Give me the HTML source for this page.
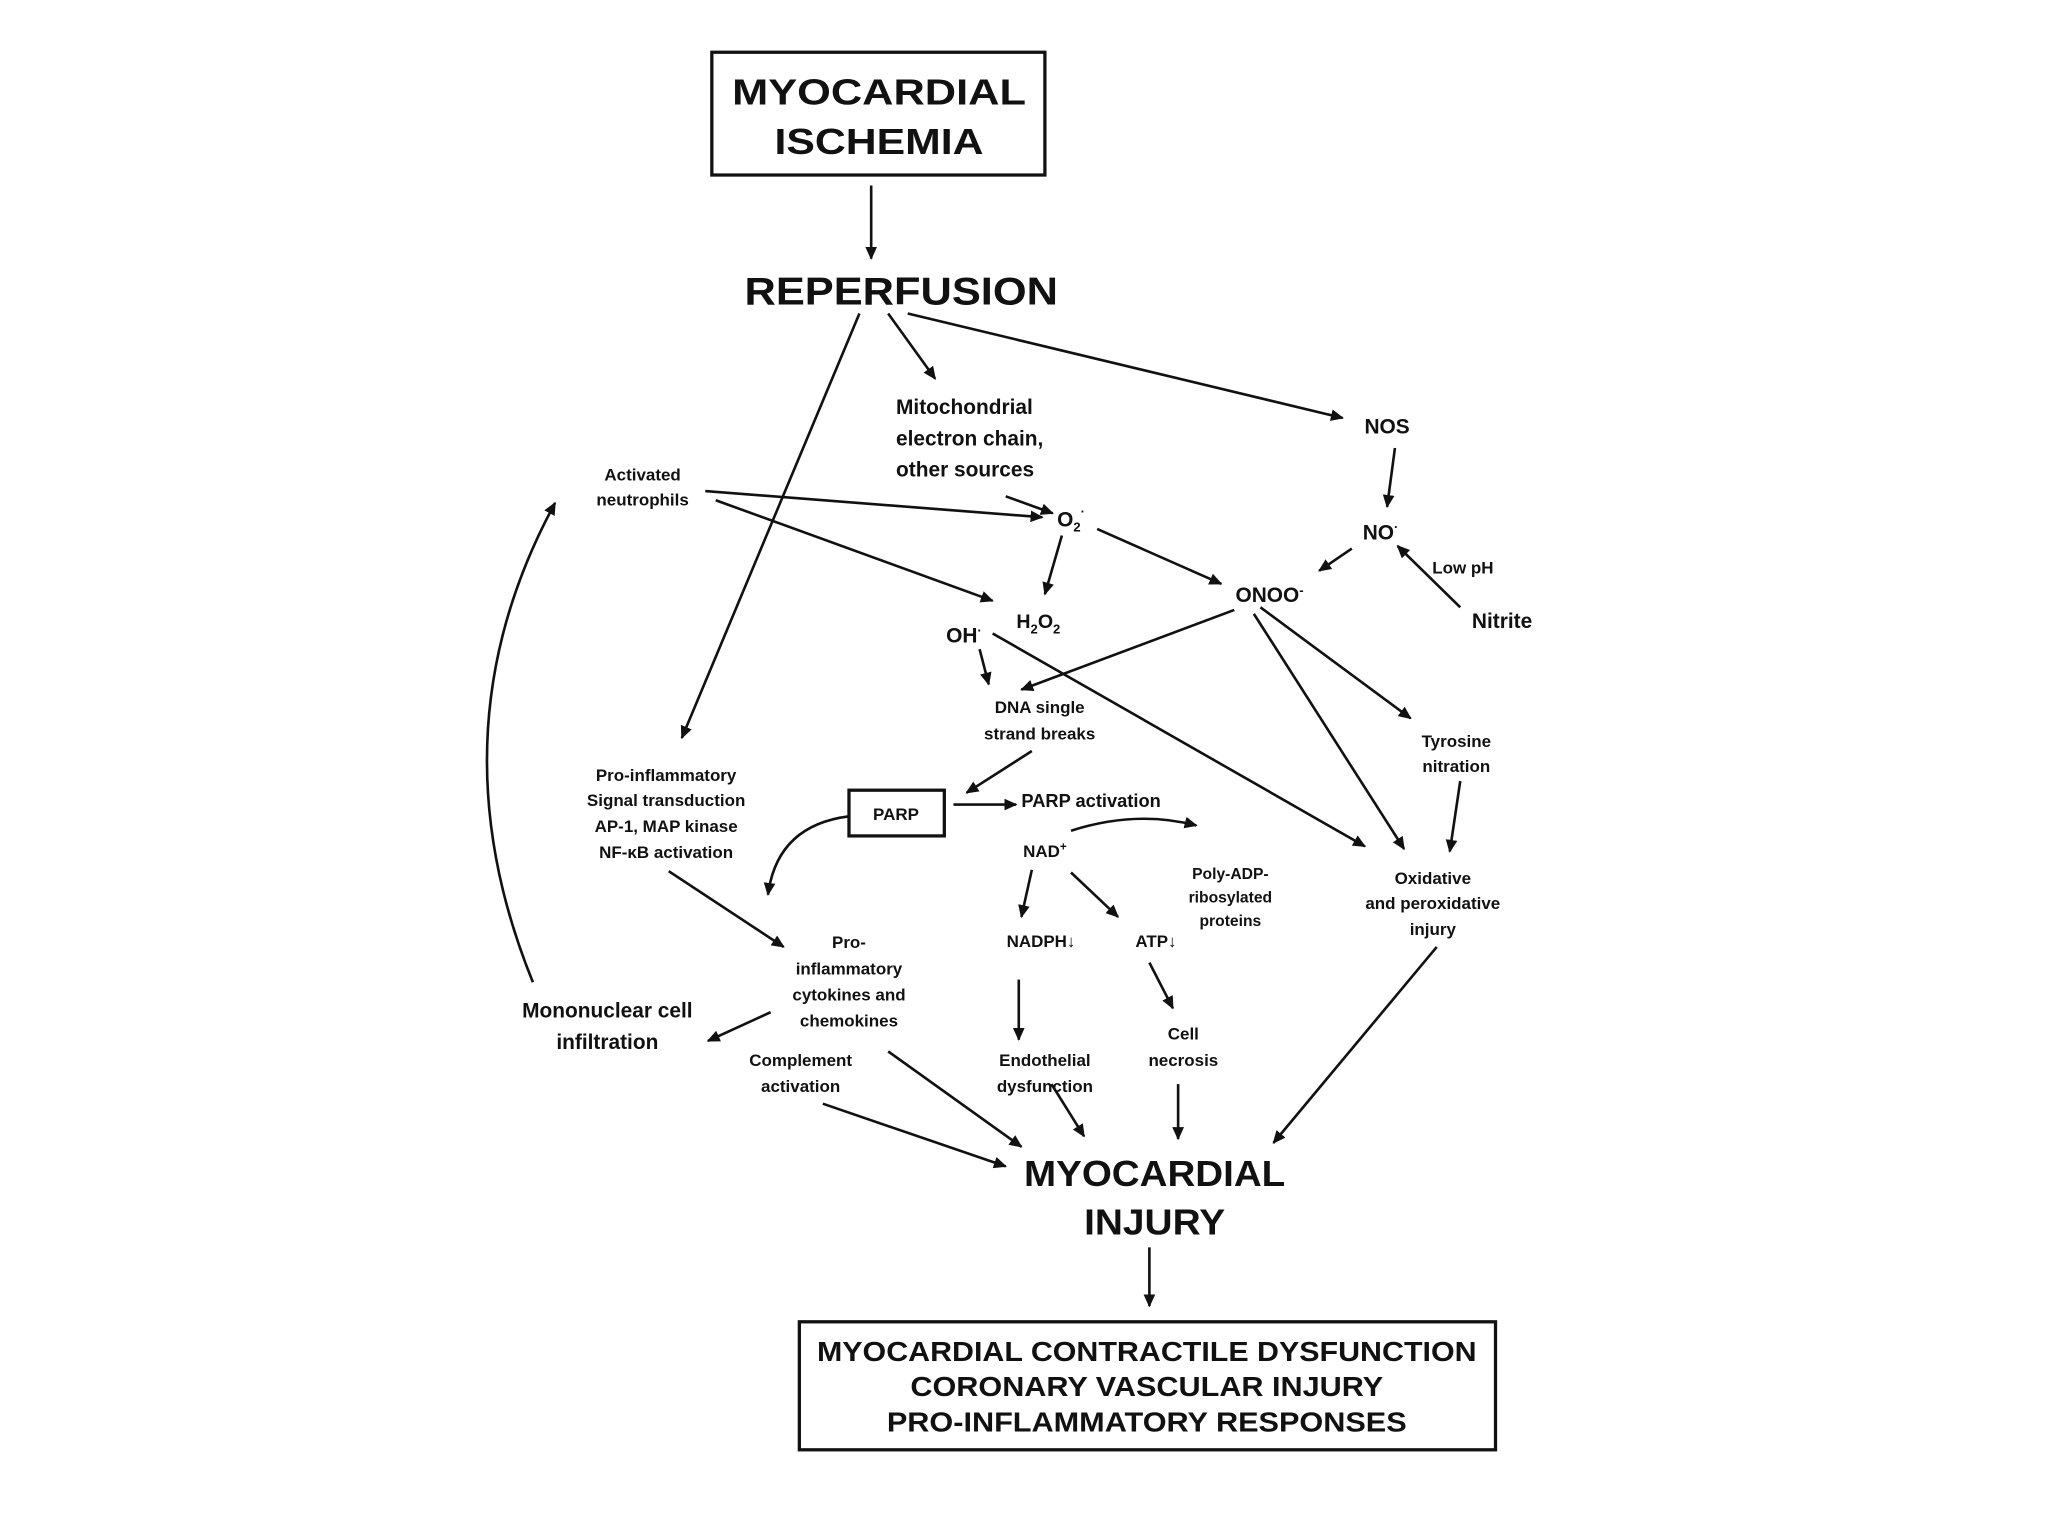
<!DOCTYPE html>
<html><head><meta charset="utf-8"><style>
html,body{margin:0;padding:0;background:#fff;}
svg{display:block}
text{font-family:"Liberation Sans",Arial,sans-serif;font-weight:bold;fill:#111;}
</style></head><body>
<svg width="2048" height="1536" viewBox="0 0 1568 1176" xmlns="http://www.w3.org/2000/svg">
<defs>
<marker id="a" markerWidth="10" markerHeight="10" refX="9" refY="5" orient="auto" markerUnits="userSpaceOnUse" viewBox="0 0 10 10">
<path d="M0,0.5 L10,5 L0,9.5 z" fill="#111"/>
</marker>
</defs>
<rect width="1568" height="1176" fill="#fff"/>
<g stroke="#111" stroke-width="2" fill="none" marker-end="url(#a)">
<line x1="667" y1="142" x2="667" y2="198"/>
<line x1="658" y1="240" x2="522" y2="565"/>
<line x1="680" y1="240" x2="716" y2="290"/>
<line x1="695" y1="240" x2="1028" y2="320"/>
<line x1="1068" y1="343" x2="1062" y2="388"/>
<line x1="1118" y1="465" x2="1070" y2="418"/>
<line x1="1035" y1="420" x2="1010" y2="437"/>
<line x1="540" y1="376" x2="798" y2="396"/>
<line x1="548" y1="383" x2="760" y2="460"/>
<line x1="770" y1="380" x2="806" y2="393"/>
<line x1="813" y1="410" x2="800" y2="455"/>
<line x1="840" y1="405" x2="935" y2="447"/>
<line x1="750" y1="497" x2="757" y2="524"/>
<line x1="760" y1="485" x2="1045" y2="648"/>
<line x1="945" y1="467" x2="782" y2="528"/>
<line x1="960" y1="470" x2="1075" y2="650"/>
<line x1="965" y1="465" x2="1080" y2="550"/>
<line x1="790" y1="575" x2="740" y2="607"/>
<line x1="1118" y1="598" x2="1110" y2="652"/>
<line x1="730" y1="616" x2="778" y2="616"/>
<path d="M820,636 Q870,620 916,632"/>
<path d="M650,625 Q595,632 588,685"/>
<line x1="790" y1="666" x2="782" y2="702"/>
<line x1="820" y1="668" x2="856" y2="702"/>
<line x1="780" y1="750" x2="780" y2="796"/>
<line x1="880" y1="737" x2="898" y2="772"/>
<line x1="512" y1="667" x2="600" y2="725"/>
<line x1="590" y1="775" x2="542" y2="797"/>
<path d="M408,752 Q330,560 425,385"/>
<line x1="630" y1="845" x2="770" y2="893"/>
<line x1="680" y1="805" x2="782" y2="878"/>
<line x1="805" y1="830" x2="830" y2="870"/>
<line x1="902" y1="830" x2="902" y2="872"/>
<line x1="1100" y1="725" x2="975" y2="875"/>
<line x1="880" y1="955" x2="880" y2="1000"/>
</g>
<rect x="545" y="40" width="255" height="94" fill="none" stroke="#111" stroke-width="2.5"/>
<rect x="650" y="605" width="73" height="35" fill="none" stroke="#111" stroke-width="2.5"/>
<rect x="612" y="1012" width="533" height="98" fill="none" stroke="#111" stroke-width="2.5"/>
<g text-anchor="middle">
<text x="673" y="80" font-size="28" textLength="225" lengthAdjust="spacingAndGlyphs">MYOCARDIAL</text>
<text x="673" y="118" font-size="28" textLength="160" lengthAdjust="spacingAndGlyphs">ISCHEMIA</text>
<text x="690" y="233" font-size="30" textLength="240" lengthAdjust="spacingAndGlyphs">REPERFUSION</text>
<text x="1062" y="332" font-size="16">NOS</text>
<text x="1057" y="413" font-size="16">NO<tspan font-size="10" dy="-6">·</tspan></text>
<text x="1120" y="439" font-size="13">Low pH</text>
<text x="1150" y="481" font-size="16">Nitrite</text>
<text x="972" y="461" font-size="16">ONOO<tspan font-size="10" dy="-6">-</tspan></text>
<text x="492" y="368" font-size="13">Activated</text>
<text x="492" y="387" font-size="13">neutrophils</text>
<text x="820" y="403" font-size="16">O<tspan font-size="10" dy="4">2</tspan><tspan font-size="10" dy="-12">·</tspan></text>
<text x="795" y="481" font-size="15">H<tspan font-size="10" dy="4">2</tspan><tspan dy="-4">O</tspan><tspan font-size="10" dy="4">2</tspan></text>
<text x="738" y="492" font-size="16">OH<tspan font-size="10" dy="-6">·</tspan></text>
<text x="796" y="546" font-size="13">DNA single</text>
<text x="796" y="566" font-size="13">strand breaks</text>
<text x="1115" y="572" font-size="13">Tyrosine</text>
<text x="1115" y="591" font-size="13">nitration</text>
<text x="1097" y="677" font-size="13">Oxidative</text>
<text x="1097" y="696" font-size="13">and peroxidative</text>
<text x="1097" y="716" font-size="13">injury</text>
<text x="510" y="598" font-size="13">Pro-inflammatory</text>
<text x="510" y="617" font-size="13">Signal transduction</text>
<text x="510" y="637" font-size="13">AP-1, MAP kinase</text>
<text x="510" y="657" font-size="13">NF-κB activation</text>
<text x="686" y="628" font-size="13">PARP</text>
<text x="800" y="656" font-size="13">NAD<tspan font-size="9" dy="-5">+</tspan></text>
<text x="942" y="673" font-size="12">Poly-ADP-</text>
<text x="942" y="691" font-size="12">ribosylated</text>
<text x="942" y="709" font-size="12">proteins</text>
<text x="797" y="725" font-size="13">NADPH↓</text>
<text x="885" y="725" font-size="13">ATP↓</text>
<text x="800" y="816" font-size="13">Endothelial</text>
<text x="800" y="836" font-size="13">dysfunction</text>
<text x="906" y="796" font-size="13">Cell</text>
<text x="906" y="816" font-size="13">necrosis</text>
<text x="650" y="726" font-size="13">Pro-</text>
<text x="650" y="746" font-size="13">inflammatory</text>
<text x="650" y="766" font-size="13">cytokines and</text>
<text x="650" y="786" font-size="13">chemokines</text>
<text x="465" y="779" font-size="16">Mononuclear cell</text>
<text x="465" y="803" font-size="16">infiltration</text>
<text x="613" y="816" font-size="13">Complement</text>
<text x="613" y="836" font-size="13">activation</text>
<text x="884" y="908" font-size="28" textLength="200" lengthAdjust="spacingAndGlyphs">MYOCARDIAL</text>
<text x="884" y="945" font-size="28" textLength="108" lengthAdjust="spacingAndGlyphs">INJURY</text>
<text x="878" y="1042" font-size="21" textLength="505" lengthAdjust="spacingAndGlyphs">MYOCARDIAL CONTRACTILE DYSFUNCTION</text>
<text x="878" y="1069" font-size="21" textLength="362" lengthAdjust="spacingAndGlyphs">CORONARY VASCULAR INJURY</text>
<text x="878" y="1096" font-size="21" textLength="398" lengthAdjust="spacingAndGlyphs">PRO-INFLAMMATORY RESPONSES</text>
</g>
<g font-size="16">
<text x="686" y="317">Mitochondrial</text>
<text x="686" y="341">electron chain,</text>
<text x="686" y="365">other sources</text>
<text x="782" y="618" font-size="14">PARP activation</text>
</g>
</svg>
</body></html>
